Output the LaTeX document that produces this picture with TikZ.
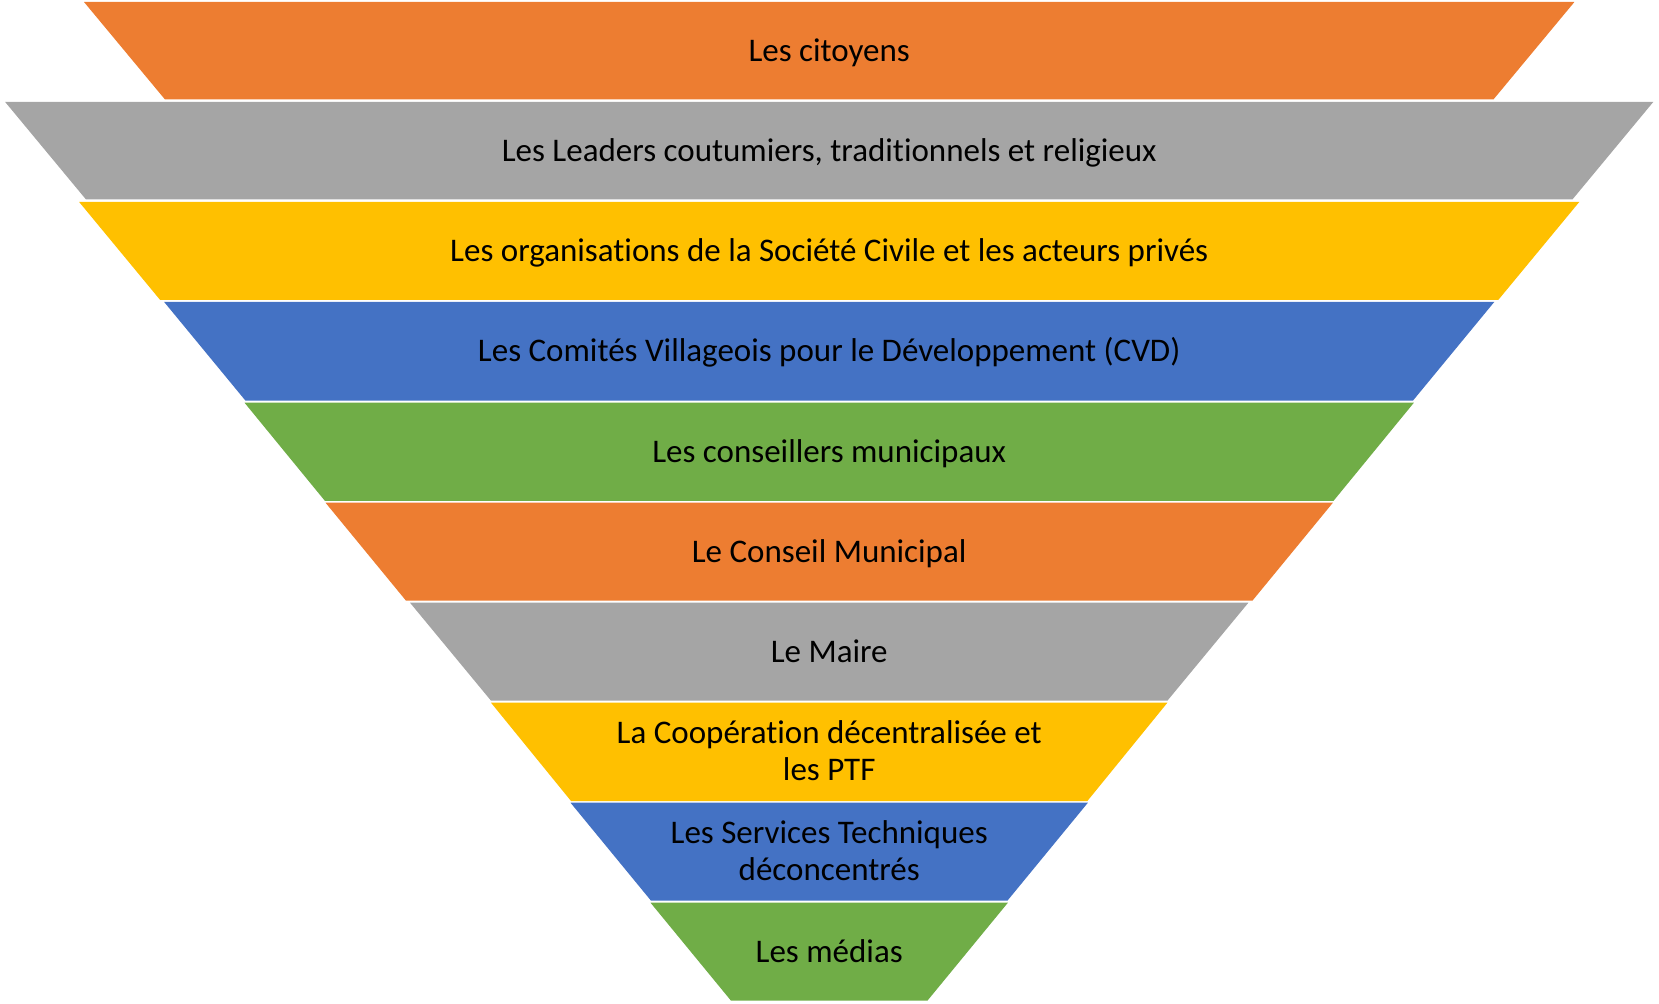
\documentclass[tikz,border=0pt]{standalone}
\usepackage{fontspec}
\setmainfont[Ligatures=NoCommon]{Carlito}
\definecolor{cOrange}{HTML}{ED7D31}
\definecolor{cGray}{HTML}{A5A5A5}
\definecolor{cYellow}{HTML}{FFC000}
\definecolor{cBlue}{HTML}{4472C4}
\definecolor{cGreen}{HTML}{70AD47}
\tikzset{
  band/.style={draw=none},
  lbl/.style={anchor=base, align=center, inner sep=0pt, text=black,
    font=\fontsize{16.5}{18.35}\selectfont}
}
\newcommand{\mkband}[6]{%
  % #1 colour, #2 left top, #3 left bottom, #4 y top, #5 y bottom, #6 name
  \fill[band, #1] (#2,#4) -- (1658.4-#2,#4) -- (1658.4-#3,#5) -- (#3,#5) -- cycle;
  \coordinate (#6) at (829.2,{(#4+#5)/2});
}
\begin{document}
\begin{tikzpicture}[x=0.5pt,y=-0.5pt]
\useasboundingbox (0,0) rectangle (1659,1004);
\mkband{cOrange}{84}{165}{2}{99.5}{b0}
\mkband{cGray}{5}{86}{101.8}{199.5}{b1}
\mkband{cYellow}{79}{160}{201.8}{299.8}{b2}
\mkband{cBlue}{164}{245.5}{301.8}{400.7}{b3}
\mkband{cGreen}{244.5}{325}{402.7}{501}{b4}
\mkband{cOrange}{325.5}{406}{502.7}{600.7}{b5}
\mkband{cGray}{410}{491}{602.7}{700.7}{b6}
\mkband{cYellow}{491}{571}{702.7}{801}{b7}
\mkband{cBlue}{570.5}{651}{802.7}{900.7}{b8}
\mkband{cGreen}{650.5}{731}{902.7}{1000.7}{b9}
\node[lbl] (t0) at ([yshift=-5.25pt]b0) {Les citoyens};
\node[lbl] (t1) at ([yshift=-5.25pt]b1) {Les Leaders coutumiers, traditionnels et religieux};
\node[lbl] (t2) at ([yshift=-5.25pt]b2) {Les organisations de la Société Civile et les acteurs privés};
\node[lbl] (t3) at ([yshift=-5.25pt]b3) {Les Comités Villageois pour le Développement (CVD)};
\node[lbl] (t4) at ([yshift=-5.25pt]b4) {Les conseillers municipaux};
\node[lbl] (t5) at ([yshift=-5.25pt]b5) {Le Conseil Municipal};
\node[lbl] (t6) at ([yshift=-5.25pt]b6) {Le Maire};
\node[lbl] (t7) at (829.2,780) {La Coopération décentralisée et\\les PTF};
\node[lbl] (t8) at (829.2,880) {Les Services Techniques\\déconcentrés};
\node[lbl] (t9) at ([yshift=-5.25pt]b9) {Les médias};
\end{tikzpicture}
\end{document}
